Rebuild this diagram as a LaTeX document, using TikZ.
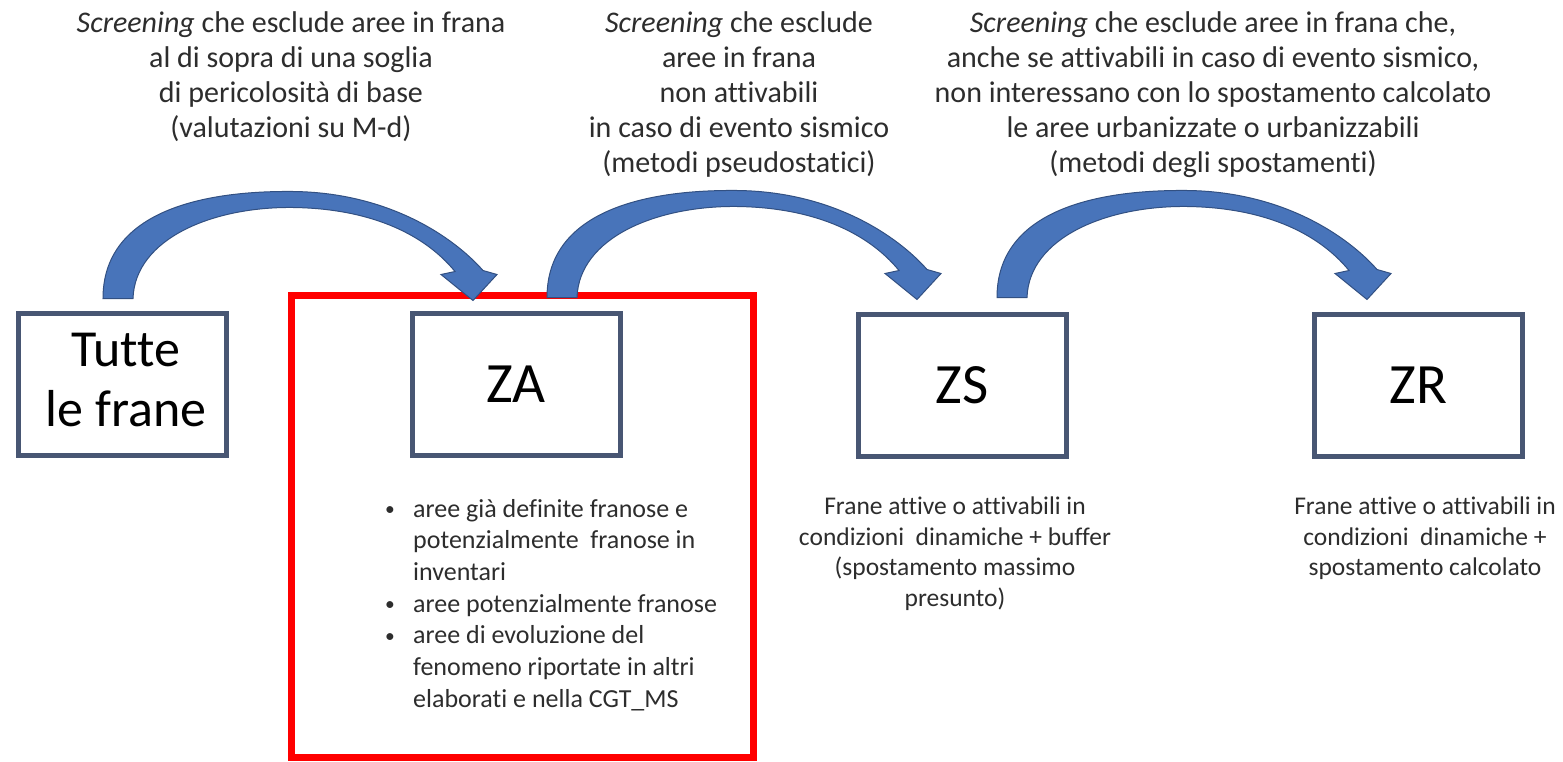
\documentclass[tikz,border=0pt]{standalone}
\usepackage{fontspec}
\setmainfont{Carlito}[Ligatures=NoCommon]
\usetikzlibrary{calc}
\definecolor{arrowfill}{RGB}{72,116,186}
\definecolor{arrowline}{RGB}{50,80,130}
\definecolor{boxline}{RGB}{72,86,115}
\definecolor{txt}{RGB}{45,45,45}
\tikzset{
  toptext/.style={align=center, inner sep=0pt, text=txt, font=\fontsize{30}{35}\selectfont},
  zonebox/.style={draw=boxline, line width=5pt, fill=white, minimum width=208pt, minimum height=142pt, inner sep=0pt},
  zonelabel/.style={font=\fontsize{57}{60}\selectfont, align=center},
  bigtext/.style={font=\fontsize{52}{60}\selectfont, align=center},
  desc/.style={align=center, inner sep=0pt, text=txt, font=\fontsize{25.5}{30.5}\selectfont},
  bigarrow/.pic={
    \fill[arrowfill, draw=arrowline, line width=1pt]
      (0,0) .. controls (0,-85) and (95,-108) .. (190,-107)
      .. controls (285,-106) and (350,-62) .. (380,-28)
      -- (394,-24) -- (370,2) -- (338,-24) -- (352,-27)
      .. controls (320,-66) and (265,-90) .. (190,-91)
      .. controls (110,-92) and (32,-60) .. (30,0) -- cycle;
  }
}
\newcommand{\smallbul}{\raisebox{1.5pt}{\scalebox{0.75}{\textbullet}}}
\begin{document}
\begin{tikzpicture}[x=1pt,y=-1pt]
\useasboundingbox[fill=white] (0,0) rectangle (1563,762);

% boxes
\node[zonebox] (tutte) at (122.5,384) {};
\node[bigtext] (tuttetxt) at (126,380) {Tutte\\le frane};
\node[zonebox] (za) at (516,384) {};
\node[zonelabel] (zatxt) at (za.center) {ZA};
\node[zonebox] (zs) at (962,385) {};
\node[zonelabel] (zstxt) at (zs.center) {ZS};
\node[zonebox] (zr) at (1418.5,385) {};
\node[zonelabel] (zrtxt) at (zr.center) {ZR};

% red frame
\draw[red, line width=7pt] (291,295) rectangle (753.5,757);

% curved arrows
\pic at ($(tutte.north)+(-19.5,-12)$) {bigarrow};
\pic at ($(za.north)+(31,-13)$) {bigarrow};
\pic at ($(zs.north)+(35,-14)$) {bigarrow};

% top texts
\node[toptext, anchor=north] (s1) at (291,11) {\textit{Screening} che esclude aree in frana\\al di sopra di una soglia\\di pericolosità di base\\(valutazioni su M-d)};
\node[toptext, anchor=north] (s2) at (739,11) {\textit{Screening} che esclude\\aree in frana\\non attivabili\\in caso di evento sismico\\(metodi pseudostatici)};
\node[toptext, anchor=north] (s3) at (1213,11) {\textit{Screening} che esclude aree in frana che,\\anche se attivabili in caso di evento sismico,\\non interessano con lo spostamento calcolato\\le aree urbanizzate o urbanizzabili\\(metodi degli spostamenti)};

% descriptions
\node[anchor=base west, inner sep=0pt, text=txt, font=\fontsize{26}{31.7}\selectfont] (zalist) at (385,517)
{\begin{tabular}[t]{@{}p{28pt}@{}l@{}}
\smallbul & aree già definite franose e\\
 & potenzialmente\ \ franose in\\
 & inventari\\
\smallbul & aree potenzialmente franose\\
\smallbul & aree di evoluzione del\\
 & fenomeno riportate in altri\\
 & elaborati e nella CGT\_MS
\end{tabular}};
\node[desc, anchor=north] (zsdesc) at (955,497) {Frane attive o attivabili in\\condizioni\ \ dinamiche + buffer\\(spostamento massimo\\presunto)};
\node[desc, anchor=north] (zrdesc) at (1425,497) {Frane attive o attivabili in\\condizioni\ \ dinamiche +\\spostamento calcolato};
\end{tikzpicture}
\end{document}
